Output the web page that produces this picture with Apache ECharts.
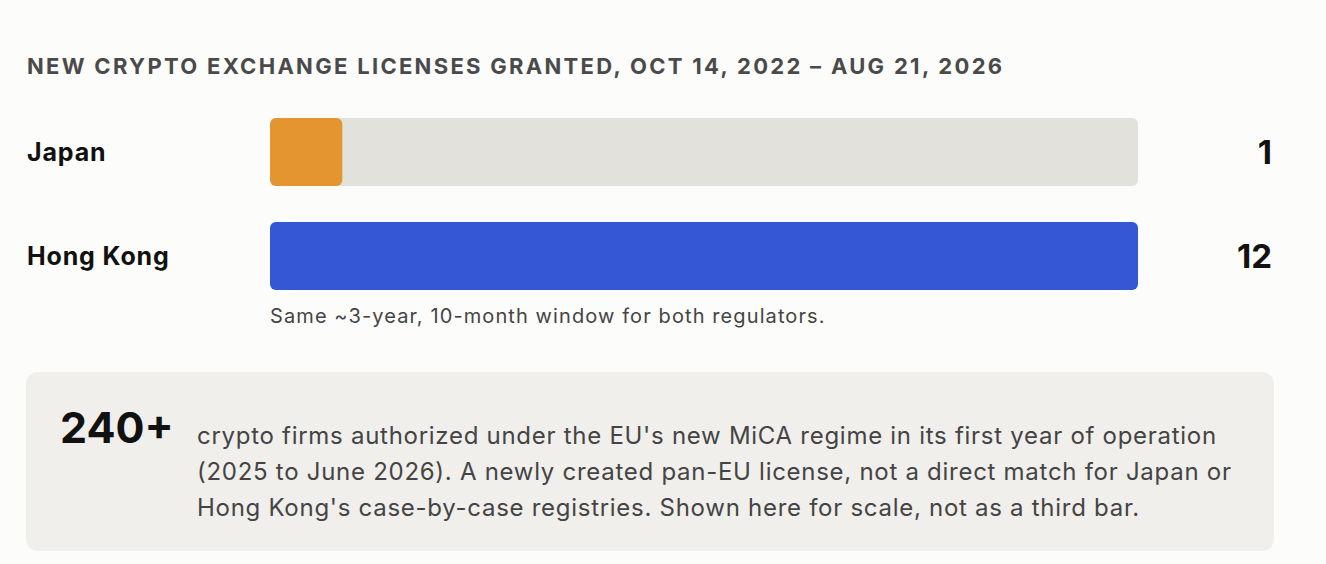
<!DOCTYPE html>
<html>
<head>
<meta charset="utf-8">
<script src="https://cdn.jsdelivr.net/npm/echarts@6/dist/echarts.min.js"></script>
<style>
  html, body { margin: 0; padding: 0; background: #fcfcfa; }
  #chart { width: 1326px; height: 564px; }
</style>
</head>
<body>
<div id="chart"></div>
<script>
const countries = ['Japan', 'Hong Kong'];
const licenses = [1, 12];
const barColors = ['#e4952f', '#3557d6'];
const axisMax = 12;

const titleText = 'NEW CRYPTO EXCHANGE LICENSES GRANTED, OCT 14, 2022 \u2013 AUG 21, 2026';
const noteText = 'Same ~3-year, 10-month window for both regulators.';
const micaFigure = '240+';
const micaLines = [
    "crypto firms authorized under the EU's new MiCA regime in its first year of operation",
    "(2025 to June 2026). A newly created pan-EU license, not a direct match for Japan or",
    "Hong Kong's case-by-case registries. Shown here for scale, not as a third bar."
];

const font = 'Inter, "Noto Sans", sans-serif';
const chart = echarts.init(document.getElementById('chart'), null, {renderer: 'svg'});

chart.setOption({
    backgroundColor: '#fcfcfa',
    animation: false,
    grid: {left: 270, right: 188, top: 100, height: 208},
    xAxis: {type: 'value', min: 0, max: axisMax, show: false},
    yAxis: [
        {
            type: 'category',
            data: countries,
            inverse: true,
            axisLine: {show: false},
            axisTick: {show: false},
            axisLabel: {
                align: 'left',
                margin: 243,
                color: '#111',
                fontFamily: font,
                fontWeight: 'bold',
                fontSize: 25
            }
        },
        {
            type: 'category',
            data: licenses.map(String),
            inverse: true,
            position: 'right',
            axisLine: {show: false},
            axisTick: {show: false},
            axisLabel: {
                align: 'right',
                margin: 134,
                color: '#111',
                fontFamily: font,
                fontWeight: 'bold',
                fontSize: 33
            }
        }
    ],
    series: [{
        type: 'bar',
        data: licenses.map((v, i) => ({value: v, itemStyle: {color: barColors[i]}})),
        barWidth: 68,
        itemStyle: {borderRadius: 6},
        showBackground: true,
        backgroundStyle: {color: '#e3e1dc', borderRadius: 6}
    }],
    graphic: [
        {
            type: 'text', left: 27, top: 55,
            style: {
                text: titleText, fill: '#4a4a4a', font: 'bold 22px ' + font
            }
        },
        {
            type: 'text', left: 270, top: 306,
            style: {text: noteText, fill: '#444', font: '20px ' + font}
        },
        {
            type: 'rect',
            shape: {x: 26, y: 372, width: 1248, height: 179, r: 12},
            style: {fill: '#f0efec'}
        },
        {
            type: 'text', left: 60, top: 405,
            style: {text: micaFigure, fill: '#111', font: 'bold 43px ' + font}
        },
        {
            type: 'text', left: 197, top: 417,
            style: {
                text: micaLines.join('\n'),
                fill: '#444',
                font: '24px ' + font,
                lineHeight: 36
            }
        }
    ]
});

// the reference uses a wider, tracked face; add letter spacing to left-aligned texts
const tracking = {};
tracking[titleText] = 2.3;
tracking[noteText] = 1.1;
micaLines.forEach(l => { tracking[l] = 0.72; });
countries.forEach(c => { tracking[c] = 0.85; });

function applyTracking() {
    document.querySelectorAll('#chart text').forEach(t => {
        const s = tracking[t.textContent];
        if (s !== undefined) t.setAttribute('letter-spacing', s + 'px');
        t.querySelectorAll('tspan').forEach(ts => {
            const s2 = tracking[ts.textContent];
            if (s2 !== undefined) ts.setAttribute('letter-spacing', s2 + 'px');
        });
    });
}
chart.on('finished', applyTracking);
applyTracking();
setTimeout(applyTracking, 50);
</script>
</body>
</html>
